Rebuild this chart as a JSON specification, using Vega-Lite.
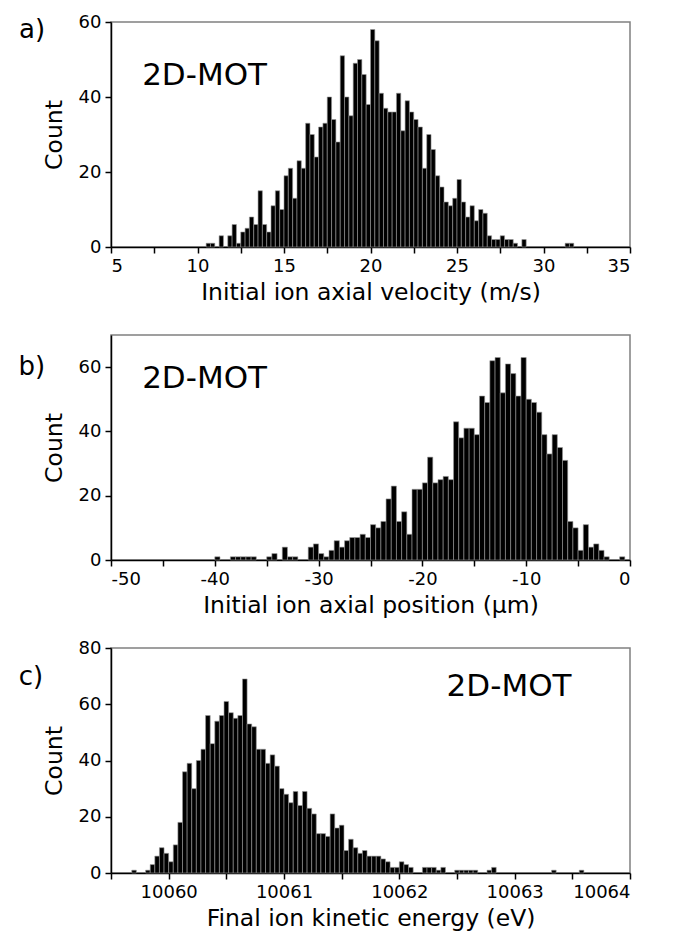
{
  "$schema": "https://vega.github.io/schema/vega-lite/v6.json",
  "background": "white",
  "padding": {"left": 17, "top": 12, "right": 5, "bottom": 5},
  "spacing": 88,
  "bounds": "flush",
  "config": {
    "font": "DejaVu Sans",
    "view": {"stroke": "#808080", "strokeWidth": 1.5},
    "axis": {
      "grid": false,
      "domainColor": "#000", "domainWidth": 1.5,
      "tickColor": "#000", "tickWidth": 1.5, "tickSize": 6,
      "labelColor": "#000", "titleColor": "#000",
      "labelFont": "DejaVu Sans", "titleFont": "DejaVu Sans",
      "labelFontSize": 18, "titleFontSize": 23.5, "titleFontWeight": "normal",
      "labelPadding": 4
    }
  },
  "datasets": {
    "a": [
      {"start":10.5,"end":10.75,"count":1},{"start":10.75,"end":11,"count":1},{"start":11.25,"end":11.5,"count":3},{"start":11.75,"end":12,"count":3},
      {"start":12,"end":12.25,"count":6},{"start":12.25,"end":12.5,"count":1},{"start":12.5,"end":12.75,"count":4},{"start":12.75,"end":13,"count":5},
      {"start":13,"end":13.25,"count":8},{"start":13.25,"end":13.5,"count":6},{"start":13.5,"end":13.75,"count":15},{"start":13.75,"end":14,"count":6},
      {"start":14,"end":14.25,"count":4},{"start":14.25,"end":14.5,"count":11},{"start":14.5,"end":14.75,"count":15},{"start":14.75,"end":15,"count":10},
      {"start":15,"end":15.25,"count":19},{"start":15.25,"end":15.5,"count":21},{"start":15.5,"end":15.75,"count":13},{"start":15.75,"end":16,"count":23},
      {"start":16,"end":16.25,"count":21},{"start":16.25,"end":16.5,"count":33},{"start":16.5,"end":16.75,"count":30},{"start":16.75,"end":17,"count":24},
      {"start":17,"end":17.25,"count":32},{"start":17.25,"end":17.5,"count":33},{"start":17.5,"end":17.75,"count":40},{"start":17.75,"end":18,"count":34},
      {"start":18,"end":18.25,"count":28},{"start":18.25,"end":18.5,"count":51},{"start":18.5,"end":18.75,"count":40},{"start":18.75,"end":19,"count":35},
      {"start":19,"end":19.25,"count":49},{"start":19.25,"end":19.5,"count":50},{"start":19.5,"end":19.75,"count":46},{"start":19.75,"end":20,"count":38},
      {"start":20,"end":20.25,"count":58},{"start":20.25,"end":20.5,"count":55},{"start":20.5,"end":20.75,"count":41},{"start":20.75,"end":21,"count":37},
      {"start":21,"end":21.25,"count":36},{"start":21.25,"end":21.5,"count":36},{"start":21.5,"end":21.75,"count":41},{"start":21.75,"end":22,"count":31},
      {"start":22,"end":22.25,"count":39},{"start":22.25,"end":22.5,"count":36},{"start":22.5,"end":22.75,"count":34},{"start":22.75,"end":23,"count":32},
      {"start":23,"end":23.25,"count":21},{"start":23.25,"end":23.5,"count":30},{"start":23.5,"end":23.75,"count":26},{"start":23.75,"end":24,"count":19},
      {"start":24,"end":24.25,"count":16},{"start":24.25,"end":24.5,"count":12},{"start":24.5,"end":24.75,"count":11},{"start":24.75,"end":25,"count":13},
      {"start":25,"end":25.25,"count":18},{"start":25.25,"end":25.5,"count":12},{"start":25.5,"end":25.75,"count":8},{"start":25.75,"end":26,"count":11},
      {"start":26,"end":26.25,"count":7},{"start":26.25,"end":26.5,"count":10},{"start":26.5,"end":26.75,"count":9},{"start":26.75,"end":27,"count":3},
      {"start":27,"end":27.25,"count":2},{"start":27.25,"end":27.5,"count":2},{"start":27.5,"end":27.75,"count":3},{"start":27.75,"end":28,"count":2},
      {"start":28,"end":28.25,"count":2},{"start":28.25,"end":28.5,"count":1},{"start":28.75,"end":29,"count":2},
      {"start":31.25,"end":31.5,"count":1},{"start":31.5,"end":31.75,"count":1}
    ],
    "b": [
      {"start":-40,"end":-39.5,"count":1},{"start":-38.5,"end":-38,"count":1},{"start":-38,"end":-37.5,"count":1},{"start":-37.5,"end":-37,"count":1},
      {"start":-37,"end":-36.5,"count":1},{"start":-36.5,"end":-36,"count":1},{"start":-35,"end":-34.5,"count":1},{"start":-34.5,"end":-34,"count":2},
      {"start":-33.5,"end":-33,"count":4},{"start":-33,"end":-32.5,"count":1},{"start":-32.5,"end":-32,"count":1},
      {"start":-31,"end":-30.5,"count":4},{"start":-30.5,"end":-30,"count":5},{"start":-30,"end":-29.5,"count":2},{"start":-29.5,"end":-29,"count":1},
      {"start":-29,"end":-28.5,"count":3},{"start":-28.5,"end":-28,"count":6},{"start":-28,"end":-27.5,"count":4},{"start":-27.5,"end":-27,"count":6},
      {"start":-27,"end":-26.5,"count":7},{"start":-26.5,"end":-26,"count":7},{"start":-26,"end":-25.5,"count":8},{"start":-25.5,"end":-25,"count":7},
      {"start":-25,"end":-24.5,"count":11},{"start":-24.5,"end":-24,"count":10},{"start":-24,"end":-23.5,"count":12},{"start":-23.5,"end":-23,"count":19},
      {"start":-23,"end":-22.5,"count":23},{"start":-22.5,"end":-22,"count":12},{"start":-22,"end":-21.5,"count":15},{"start":-21.5,"end":-21,"count":8},
      {"start":-21,"end":-20.5,"count":22},{"start":-20.5,"end":-20,"count":22},{"start":-20,"end":-19.5,"count":24},{"start":-19.5,"end":-19,"count":32},
      {"start":-19,"end":-18.5,"count":24},{"start":-18.5,"end":-18,"count":25},{"start":-18,"end":-17.5,"count":26},{"start":-17.5,"end":-17,"count":25},
      {"start":-17,"end":-16.5,"count":43},{"start":-16.5,"end":-16,"count":38},{"start":-16,"end":-15.5,"count":41},{"start":-15.5,"end":-15,"count":41},
      {"start":-15,"end":-14.5,"count":39},{"start":-14.5,"end":-14,"count":51},{"start":-14,"end":-13.5,"count":49},{"start":-13.5,"end":-13,"count":62},
      {"start":-13,"end":-12.5,"count":63},{"start":-12.5,"end":-12,"count":52},{"start":-12,"end":-11.5,"count":61},{"start":-11.5,"end":-11,"count":58},
      {"start":-11,"end":-10.5,"count":51},{"start":-10.5,"end":-10,"count":63},{"start":-10,"end":-9.5,"count":50},{"start":-9.5,"end":-9,"count":49},
      {"start":-9,"end":-8.5,"count":46},{"start":-8.5,"end":-8,"count":39},{"start":-8,"end":-7.5,"count":33},{"start":-7.5,"end":-7,"count":39},
      {"start":-7,"end":-6.5,"count":35},{"start":-6.5,"end":-6,"count":31},{"start":-6,"end":-5.5,"count":12},{"start":-5.5,"end":-5,"count":10},
      {"start":-5,"end":-4.5,"count":3},{"start":-4.5,"end":-4,"count":11},{"start":-4,"end":-3.5,"count":4},{"start":-3.5,"end":-3,"count":5},
      {"start":-3,"end":-2.5,"count":3},{"start":-2.5,"end":-2,"count":1},{"start":-1,"end":-0.5,"count":1}
    ],
    "c": [
      {"start":10059.68,"end":10059.72,"count":1},{"start":10059.80,"end":10059.84,"count":1},{"start":10059.84,"end":10059.88,"count":3},
      {"start":10059.88,"end":10059.92,"count":6},{"start":10059.92,"end":10059.96,"count":9},{"start":10059.96,"end":10060.00,"count":7},
      {"start":10060.00,"end":10060.04,"count":4},{"start":10060.04,"end":10060.08,"count":10},{"start":10060.08,"end":10060.12,"count":18},
      {"start":10060.12,"end":10060.16,"count":36},{"start":10060.16,"end":10060.20,"count":39},{"start":10060.20,"end":10060.24,"count":30},
      {"start":10060.24,"end":10060.28,"count":40},{"start":10060.28,"end":10060.32,"count":44},{"start":10060.32,"end":10060.36,"count":56},
      {"start":10060.36,"end":10060.40,"count":46},{"start":10060.40,"end":10060.44,"count":54},{"start":10060.44,"end":10060.48,"count":56},
      {"start":10060.48,"end":10060.52,"count":61},{"start":10060.52,"end":10060.56,"count":57},{"start":10060.56,"end":10060.60,"count":55},
      {"start":10060.60,"end":10060.64,"count":56},{"start":10060.64,"end":10060.68,"count":69},{"start":10060.68,"end":10060.72,"count":53},
      {"start":10060.72,"end":10060.76,"count":52},{"start":10060.76,"end":10060.80,"count":44},{"start":10060.80,"end":10060.84,"count":44},
      {"start":10060.84,"end":10060.88,"count":39},{"start":10060.88,"end":10060.92,"count":42},{"start":10060.92,"end":10060.96,"count":38},
      {"start":10060.96,"end":10061.00,"count":30},{"start":10061.00,"end":10061.04,"count":28},{"start":10061.04,"end":10061.08,"count":25},
      {"start":10061.08,"end":10061.12,"count":29},{"start":10061.12,"end":10061.16,"count":24},{"start":10061.16,"end":10061.20,"count":29},
      {"start":10061.20,"end":10061.24,"count":23},{"start":10061.24,"end":10061.28,"count":21},{"start":10061.28,"end":10061.32,"count":14},
      {"start":10061.32,"end":10061.36,"count":14},{"start":10061.36,"end":10061.40,"count":13},{"start":10061.40,"end":10061.44,"count":21},
      {"start":10061.44,"end":10061.48,"count":16},{"start":10061.48,"end":10061.52,"count":17},{"start":10061.52,"end":10061.56,"count":8},
      {"start":10061.56,"end":10061.60,"count":12},{"start":10061.60,"end":10061.64,"count":9},{"start":10061.64,"end":10061.68,"count":7},
      {"start":10061.68,"end":10061.72,"count":8},{"start":10061.72,"end":10061.76,"count":6},{"start":10061.76,"end":10061.80,"count":6},
      {"start":10061.80,"end":10061.84,"count":6},{"start":10061.84,"end":10061.88,"count":5},{"start":10061.88,"end":10061.92,"count":4},
      {"start":10061.92,"end":10061.96,"count":2},{"start":10061.96,"end":10062.00,"count":2},{"start":10062.00,"end":10062.04,"count":4},
      {"start":10062.04,"end":10062.08,"count":3},{"start":10062.08,"end":10062.12,"count":2},{"start":10062.20,"end":10062.24,"count":2},
      {"start":10062.24,"end":10062.28,"count":2},{"start":10062.28,"end":10062.32,"count":2},{"start":10062.32,"end":10062.36,"count":1},
      {"start":10062.36,"end":10062.40,"count":2},{"start":10062.48,"end":10062.52,"count":1},{"start":10062.52,"end":10062.56,"count":1},
      {"start":10062.56,"end":10062.60,"count":1},{"start":10062.60,"end":10062.64,"count":1},{"start":10062.64,"end":10062.68,"count":1},
      {"start":10062.76,"end":10062.80,"count":1},{"start":10062.80,"end":10062.84,"count":2},{"start":10063.32,"end":10063.36,"count":1},
      {"start":10063.56,"end":10063.60,"count":1}
    ]
  },
  "vconcat": [
    {
      "width": 519, "height": 225,
      "layer": [
        {
          "data": {"name": "a"},
          "mark": {"type": "bar", "fill": "#000", "stroke": "#999", "strokeWidth": 0.6},
          "encoding": {
            "x": {"field": "start", "type": "quantitative", "scale": {"domain": [5, 35], "nice": false},
              "axis": {"title": "Initial ion axial velocity (m/s)", "values": [5,7.5,10,12.5,15,17.5,20,22.5,25,27.5,30,32.5,35],
                "labelExpr": "datum.value % 5 === 0 ? toString(datum.value) : ''", "titlePadding": 5}},
            "x2": {"field": "end"},
            "y": {"field": "count", "type": "quantitative", "scale": {"domain": [0, 60], "nice": false},
              "axis": {"title": "Count", "values": [0,10,20,30,40,50,60], "titlePadding": 12}},
            "y2": {"datum": 0}
          }
        },
        {
          "data": {"values": [{"label": "2D-MOT", "px": 6.8, "py": 45.5}]},
          "mark": {"type": "text", "align": "left", "baseline": "middle", "font": "DejaVu Sans", "fontSize": 31, "color": "#000"},
          "encoding": {"x": {"field": "px", "type": "quantitative"}, "y": {"field": "py", "type": "quantitative"}, "text": {"field": "label"}}
        },
        {
          "data": {"values": [{"label": "a)", "px": -0.32, "py": 57.9}]},
          "mark": {"type": "text", "align": "left", "baseline": "middle", "font": "DejaVu Sans", "fontSize": 26, "color": "#000"},
          "encoding": {"x": {"field": "px", "type": "quantitative"}, "y": {"field": "py", "type": "quantitative"}, "text": {"field": "label"}}
        }
      ]
    },
    {
      "width": 519, "height": 225,
      "layer": [
        {
          "data": {"name": "b"},
          "mark": {"type": "bar", "fill": "#000", "stroke": "#999", "strokeWidth": 0.6},
          "encoding": {
            "x": {"field": "start", "type": "quantitative", "scale": {"domain": [-50, 0], "nice": false},
              "axis": {"title": "Initial ion axial position (µm)", "values": [-50,-45,-40,-35,-30,-25,-20,-15,-10,-5,0],
                "labelExpr": "datum.value % 10 === 0 ? toString(datum.value) : ''", "titlePadding": 5}},
            "x2": {"field": "end"},
            "y": {"field": "count", "type": "quantitative", "scale": {"domain": [0, 70], "nice": false},
              "axis": {"title": "Count", "values": [0,10,20,30,40,50,60,70],
                "labelExpr": "datum.value % 20 === 0 ? toString(datum.value) : ''", "titlePadding": 12}},
            "y2": {"datum": 0}
          }
        },
        {
          "data": {"values": [{"label": "2D-MOT", "px": -47.0, "py": 56.3}]},
          "mark": {"type": "text", "align": "left", "baseline": "middle", "font": "DejaVu Sans", "fontSize": 31, "color": "#000"},
          "encoding": {"x": {"field": "px", "type": "quantitative"}, "y": {"field": "py", "type": "quantitative"}, "text": {"field": "label"}}
        },
        {
          "data": {"values": [{"label": "b)", "px": -58.9, "py": 60.0}]},
          "mark": {"type": "text", "align": "left", "baseline": "middle", "font": "DejaVu Sans", "fontSize": 26, "color": "#000"},
          "encoding": {"x": {"field": "px", "type": "quantitative"}, "y": {"field": "py", "type": "quantitative"}, "text": {"field": "label"}}
        }
      ]
    },
    {
      "width": 519, "height": 225,
      "layer": [
        {
          "data": {"name": "c"},
          "mark": {"type": "bar", "fill": "#000", "stroke": "#999", "strokeWidth": 0.6},
          "encoding": {
            "x": {"field": "start", "type": "quantitative", "scale": {"domain": [10059.5, 10064], "nice": false, "zero": false},
              "axis": {"title": "Final ion kinetic energy (eV)", "values": [10059.5,10060,10060.5,10061,10061.5,10062,10062.5,10063,10063.5,10064],
                "labelExpr": "datum.value % 1 === 0 ? toString(datum.value) : ''", "titlePadding": 5}},
            "x2": {"field": "end"},
            "y": {"field": "count", "type": "quantitative", "scale": {"domain": [0, 80], "nice": false},
              "axis": {"title": "Count", "values": [0,10,20,30,40,50,60,70,80],
                "labelExpr": "datum.value % 20 === 0 ? toString(datum.value) : ''", "titlePadding": 12}},
            "y2": {"datum": 0}
          }
        },
        {
          "data": {"values": [{"label": "2D-MOT", "px": 10062.41, "py": 66.1}]},
          "mark": {"type": "text", "align": "left", "baseline": "middle", "font": "DejaVu Sans", "fontSize": 31, "color": "#000"},
          "encoding": {"x": {"field": "px", "type": "quantitative"}, "y": {"field": "py", "type": "quantitative"}, "text": {"field": "label"}}
        },
        {
          "data": {"values": [{"label": "c)", "px": 10058.70, "py": 69.7}]},
          "mark": {"type": "text", "align": "left", "baseline": "middle", "font": "DejaVu Sans", "fontSize": 26, "color": "#000"},
          "encoding": {"x": {"field": "px", "type": "quantitative"}, "y": {"field": "py", "type": "quantitative"}, "text": {"field": "label"}}
        }
      ]
    }
  ]
}
